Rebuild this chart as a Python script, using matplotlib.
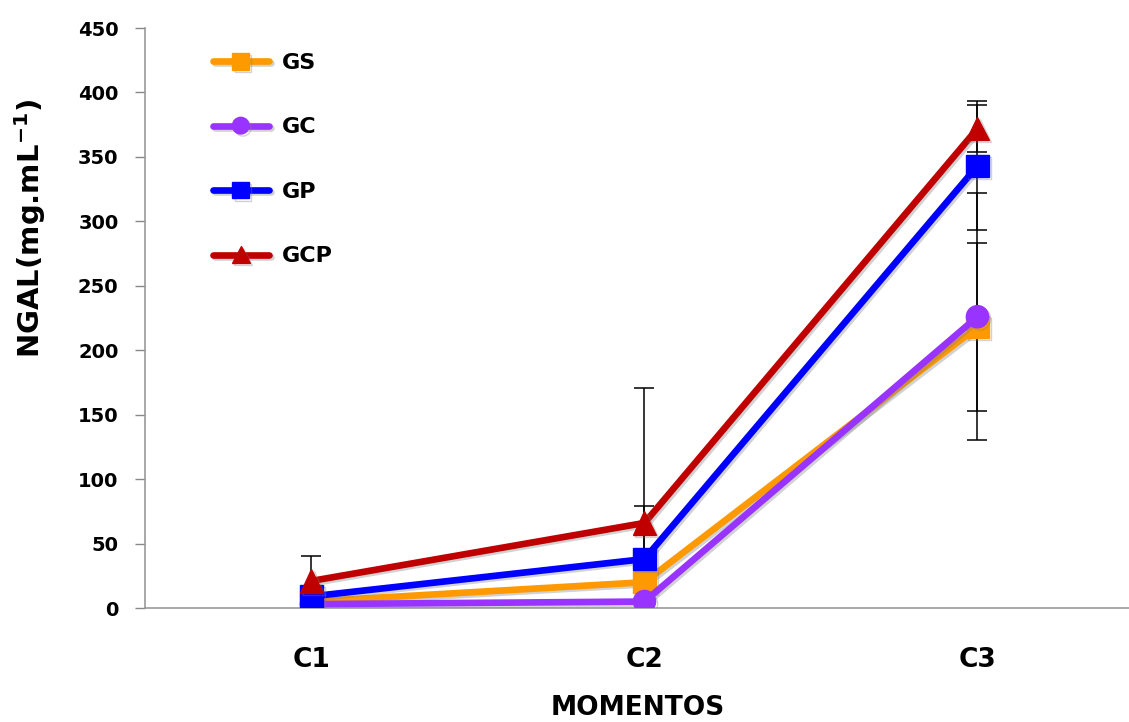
import matplotlib
matplotlib.use("Agg")
import matplotlib.pyplot as plt
import matplotlib.patheffects as pe

categories = ["C1", "C2", "C3"]
series_names = ["GS", "GC", "GP", "GCP"]
gs_vals = [5, 20, 218]
gc_vals = [3, 5, 226]
gp_vals = [9, 38, 343]
gcp_vals = [21, 66, 372]
gs_err = [2, 7, 65]
gc_err = [1, 2, 96]
gp_err = [3, 41, 50]
gcp_err = [19, 105, 18]
y_ticks = [0, 50, 100, 150, 200, 250, 300, 350, 400, 450]

values = [gs_vals, gc_vals, gp_vals, gcp_vals]
errors = [gs_err, gc_err, gp_err, gcp_err]
colors = ["#FF9900", "#9933FF", "#0000FF", "#C00000"]
markers = ["s", "o", "s", "^"]
msizes = [16, 16, 16, 17]

plt.rcParams['font.family'] = ['DejaVu Sans']
fig = plt.figure(figsize=(11.29, 7.22), dpi=100)
ax = fig.add_axes([145/1129, 1-608/722, 1-145/1129, (608-28)/722])

x = list(range(1, len(categories) + 1))
shadow = [pe.SimpleLineShadow(offset=(1.5, -1.5), shadow_color='gray', alpha=0.35), pe.Normal()]

for name, vals, err in zip(series_names, values, errors):
    ax.errorbar(x, vals, yerr=err, fmt='none', ecolor='black', elinewidth=1.1,
                capsize=7, capthick=1.1, zorder=1)
for i, (name, vals, c, m, ms) in enumerate(zip(series_names, values, colors, markers, msizes)):
    ax.plot(x, vals, color=c, marker=m, markersize=ms, linewidth=4.8, label=name,
            zorder=3 + i, path_effects=shadow, solid_capstyle='round')

ax.set_xlim(0.5, 3.455)
ax.set_ylim(0, 450)
ax.set_yticks(y_ticks)
ax.set_yticklabels([str(t) for t in y_ticks], fontsize=14, fontweight='bold')
ax.set_xticks(x)
ax.set_xticklabels(categories, fontsize=19, fontweight='bold')
ax.tick_params(axis='x', length=0, pad=28)
ax.tick_params(axis='y', length=7, width=1, color='#888888', pad=12)
for s in ['top', 'right']:
    ax.spines[s].set_visible(False)
for s in ['left', 'bottom']:
    ax.spines[s].set_color('#999999')
    ax.spines[s].set_linewidth(1.2)

fig.text(638/1129, 1-708/722, "MOMENTOS", ha='center', va='center',
         fontsize=19, fontweight='bold')
fig.text(30/1129, 1-228/722, r"NGAL(mg.mL$^{\mathbf{-1}}$)", ha='center', va='center',
         rotation=90, fontsize=21, fontweight='bold')

leg = ax.legend(loc='upper left', bbox_to_anchor=(193/1129, 1-33/722),
                bbox_transform=fig.transFigure, frameon=False,
                prop={'size': 16, 'weight': 'bold'}, handlelength=2.5,
                labelspacing=2.0, handletextpad=0.6, markerscale=0.75)

fig.savefig("out.png", dpi=100)
